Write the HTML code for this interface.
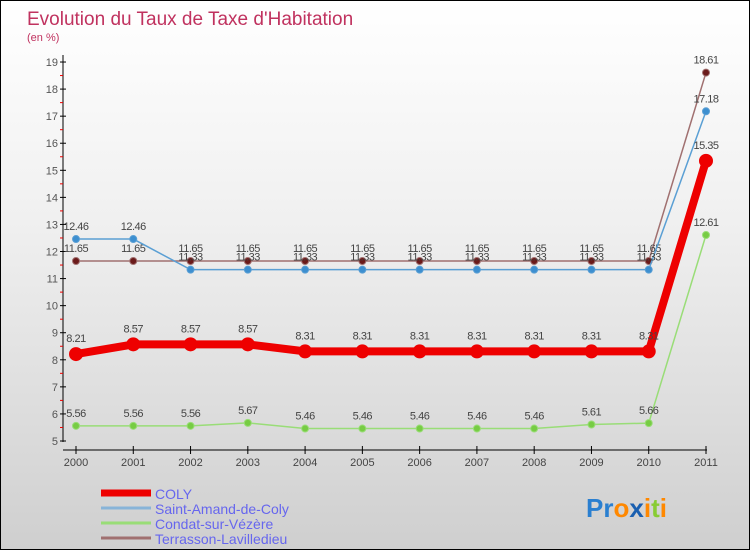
<!DOCTYPE html>
<html><head><meta charset="utf-8"><style>
body{margin:0}
#c{width:748px;height:548px;border:1px solid #000;background:linear-gradient(#fff,#f0f0f0 40%,#cfcfcf);position:relative;font-family:"Liberation Sans",sans-serif}
</style></head><body>
<div id="c">
<svg id="s" width="748" height="548" style="position:absolute;left:0;top:0">
<text x="26" y="24" font-size="19" fill="#c0325f">Evolution du Taux de Taxe d'Habitation</text>
<text x="26" y="40" font-size="11" fill="#c0325f">(en %)</text>
</svg>
</div>
<script>
const years=["2000","2001","2002","2003","2004","2005","2006","2007","2008","2009","2010","2011"];
const yTicks=[5,6,7,8,9,10,11,12,13,14,15,16,17,18,19];
const coly=[8.21,8.57,8.57,8.57,8.31,8.31,8.31,8.31,8.31,8.31,8.31,15.35];
const saint=[12.46,12.46,11.33,11.33,11.33,11.33,11.33,11.33,11.33,11.33,11.33,17.18];
const condat=[5.56,5.56,5.56,5.67,5.46,5.46,5.46,5.46,5.46,5.61,5.66,12.61];
const terr=[11.65,11.65,11.65,11.65,11.65,11.65,11.65,11.65,11.65,11.65,11.65,18.61];
const names=["COLY","Saint-Amand-de-Coly","Condat-sur-Vézère","Terrasson-Lavilledieu"];
const s=document.getElementById('s');const NS="http://www.w3.org/2000/svg";
function X(i){return 75+i*(630/11);}
function Y(v){return 440-(v-5)*27.07;}
function el(t,a,txt){const e=document.createElementNS(NS,t);for(const k in a)e.setAttribute(k,a[k]);if(txt!==undefined)e.textContent=txt;s.appendChild(e);return e;}
// axes
let ax=el('line',{x1:62,y1:54,x2:62,y2:441,stroke:'#000'});


let bx=el('line',{x1:62,y1:449,x2:706,y2:449,stroke:'#000'});


yTicks.forEach(v=>{
 el('line',{x1:59,y1:Y(v),x2:65,y2:Y(v),stroke:'#000'});
 if(v<19)el('line',{x1:59,y1:Y(v+0.5),x2:62,y2:Y(v+0.5),stroke:'#e00'});
 const t=el('text',{x:57,y:Y(v)+4,'font-size':11,fill:'#555','text-anchor':'end'},v);
 
 
});
years.forEach((y,i)=>{
 el('line',{x1:X(i),y1:445,x2:X(i),y2:453,stroke:'#000'});
 const t=el('text',{x:X(i),y:465,'font-size':11,fill:'#444','text-anchor':'middle'},y);
 
 
});
function series(d,color,w,r,dot,name,lblOff){
 const p=el('polyline',{points:d.map((v,i)=>X(i)+','+Y(v)).join(' '),fill:'none',stroke:color,'stroke-width':w});
 
 
 d.forEach((v,i)=>{
  const c=el('circle',{cx:X(i),cy:Y(v),r:r,fill:dot,stroke:color,'stroke-width':1});
  
  
  const t=el('text',{x:X(i),y:Y(v)+lblOff,'font-size':11,fill:'#444','text-anchor':'middle','letter-spacing':'-0.5'},v.toFixed(2).replace(/0$/,''));
  
  
 });
}
series(terr,'#a07070',1.5,3.5,'#6b1a1a','terrasson',-9);
series(saint,'#5a9fd4',1.5,3.5,'#3d8fd0','saint-amand',-9);
series(condat,'#99dd77',1.5,3.5,'#77cc44','condat',-9);
series(coly,'#ee0000',8,6.5,'#ee0000','coly',-12);
// legend
const cols=['#ee0000','#88b4d8','#99dd77','#a07070'];const ws=[7,3,3,3];
names.forEach((n,i)=>{
 const y=492+i*15;
 const l=el('line',{x1:100,y1:y,x2:150,y2:y,stroke:cols[i],'stroke-width':ws[i]});
 
 
 const t=el('text',{x:154,y:y+6,'font-size':14,fill:'#6666ee'},n);
 
 
});
const lg=el('text',{x:585,y:516,'font-size':26,'font-weight':'bold','font-family':'Liberation Sans'});


[['Pr','#2a7fd0'],['o','#ff8800'],['x','#1a5fb0'],['i','#ff8800'],['t','#88cc33'],['i','#ff8800']].forEach(([c,f])=>{const sp=document.createElementNS(NS,'tspan');sp.setAttribute('fill',f);sp.textContent=c;lg.appendChild(sp);});
</script>
</body></html>
